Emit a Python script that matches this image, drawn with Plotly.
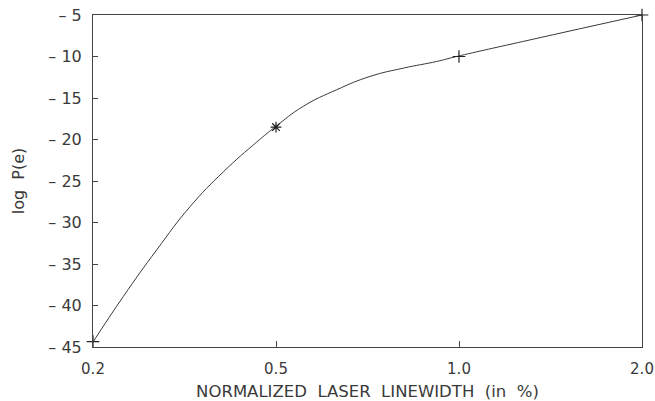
import plotly.graph_objects as go

# Tick categories (evenly spaced on the axis)
tick_pos = [0, 1, 2, 3]
tick_labels = ["0.2", "0.5", "1.0", "2.0"]

# Marked data points
mark_pos = [0, 1, 2, 3]
mark_logp = [-44.35, -18.5, -10.0, -5.0]
mark_symbols = ["cross-thin-open", "asterisk-open", "cross-thin-open", "cross-thin-open"]

# Curve (axis position, log P(e))
curve_pos = [0.0, 0.166, 0.348, 0.53, 0.712, 0.895, 0.995, 1.149, 1.332, 1.514,
             1.696, 1.878, 1.987, 2.388, 3.0]
curve_logp = [-44.4, -38.9, -33.3, -28.1, -23.9, -20.3, -18.5, -16.0, -14.0, -12.4,
              -11.4, -10.6, -10.0, -8.0, -5.0]

y_ticks = [-5, -10, -15, -20, -25, -30, -35, -40, -45]
y_labels = ["\u2013\u00a0" + str(abs(v)) for v in y_ticks]

x_title = "NORMALIZED\u00a0\u00a0LASER\u00a0\u00a0LINEWIDTH\u00a0\u00a0(in\u00a0\u00a0%)"
y_title = "log\u00a0\u00a0P(e)"

font_family = "DejaVu Sans, sans-serif"
ink = "#3a3a3a"

fig = go.Figure()
fig.add_trace(go.Scatter(
    x=curve_pos, y=curve_logp, mode="lines",
    line=dict(color="#3a3a3a", width=1, shape="spline", smoothing=1.3),
    hoverinfo="skip", showlegend=False,
))
fig.add_trace(go.Scatter(
    x=mark_pos, y=mark_logp, mode="markers",
    marker=dict(symbol=mark_symbols, size=9, color="#222222",
                line=dict(color="#222222", width=1.2)),
    cliponaxis=False, showlegend=False,
))

fig.update_layout(
    width=655, height=401,
    margin=dict(l=93, r=13, t=15, b=54),
    paper_bgcolor="white", plot_bgcolor="white",
    font=dict(family=font_family, size=15, color=ink),
)
fig.update_xaxes(
    range=[0, 3], tickvals=tick_pos, ticktext=tick_labels,
    tickfont=dict(size=15),
    showgrid=False, zeroline=False, automargin=False,
    showline=True, linecolor="#444444", linewidth=1, mirror=True,
    ticks="inside", ticklen=6, tickcolor="#444444", ticklabelstandoff=8,
    title=dict(text=x_title, font=dict(size=16.5), standoff=13),
)
fig.update_yaxes(
    range=[-45, -5], tickvals=y_ticks, ticktext=y_labels,
    tickfont=dict(size=16),
    showgrid=False, zeroline=False, automargin=False,
    showline=True, linecolor="#444444", linewidth=1, mirror=True,
    ticks="inside", ticklen=5, tickcolor="#444444", ticklabelstandoff=7,
    title=dict(text=y_title, font=dict(size=16), standoff=19),
)

fig.write_html(
    "out.html",
    config={"displayModeBar": False},
    post_script="document.body.style.margin='0';document.body.style.overflow='hidden';",
)
